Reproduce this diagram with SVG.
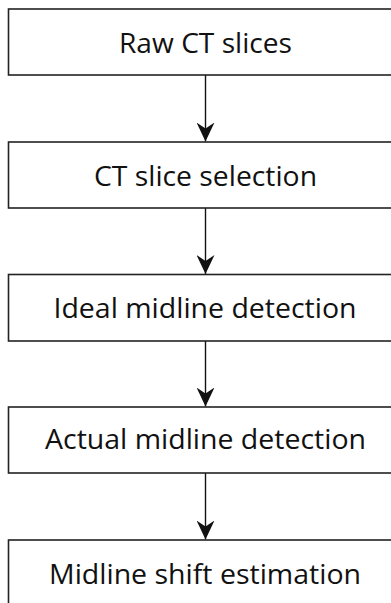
<svg xmlns="http://www.w3.org/2000/svg" width="391" height="603" viewBox="0 0 391 603">
<style>
.box{fill:#fff;stroke:#222;stroke-width:1.6}
.lbl{font-family:"Open Sans","Noto Sans",sans-serif;font-size:27px;fill:#111;text-anchor:middle}
.edge{stroke:#111;stroke-width:1.4;fill:none}
</style>
<defs>
<marker id="ah" markerUnits="userSpaceOnUse" markerWidth="19" markerHeight="18" viewBox="0 0 19 18" refX="19" refY="9" orient="auto">
<path d="M0,0 L19,9 L0,18 L6,9 Z" fill="#111"/>
</marker>
</defs>
<rect width="391" height="603" fill="#fff"/>
<g id="edges">
<line class="edge" x1="205.5" y1="75" x2="205.5" y2="141.5" marker-end="url(#ah)"/>
<line class="edge" x1="205.5" y1="208" x2="205.5" y2="274" marker-end="url(#ah)"/>
<line class="edge" x1="205.5" y1="341" x2="205.5" y2="406.5" marker-end="url(#ah)"/>
<line class="edge" x1="205.5" y1="473" x2="205.5" y2="539.5" marker-end="url(#ah)"/>
</g>
<g id="n1"><rect class="box" x="8.5" y="9" width="400" height="66"/><text class="lbl" x="205.5" y="53" textLength="173" lengthAdjust="spacingAndGlyphs">Raw CT slices</text></g>
<g id="n2"><rect class="box" x="8.5" y="142" width="400" height="66"/><text class="lbl" x="205.5" y="186" textLength="223" lengthAdjust="spacingAndGlyphs">CT slice selection</text></g>
<g id="n3"><rect class="box" x="8.5" y="274.5" width="400" height="66.5"/><text class="lbl" x="205" y="318" textLength="303" lengthAdjust="spacingAndGlyphs">Ideal midline detection</text></g>
<g id="n4"><rect class="box" x="8.5" y="407" width="400" height="66"/><text class="lbl" x="205.5" y="449" textLength="321" lengthAdjust="spacingAndGlyphs">Actual midline detection</text></g>
<g id="n5"><rect class="box" x="8.5" y="540" width="400" height="80"/><text class="lbl" x="205" y="584" textLength="312" lengthAdjust="spacingAndGlyphs">Midline shift estimation</text></g>
</svg>
